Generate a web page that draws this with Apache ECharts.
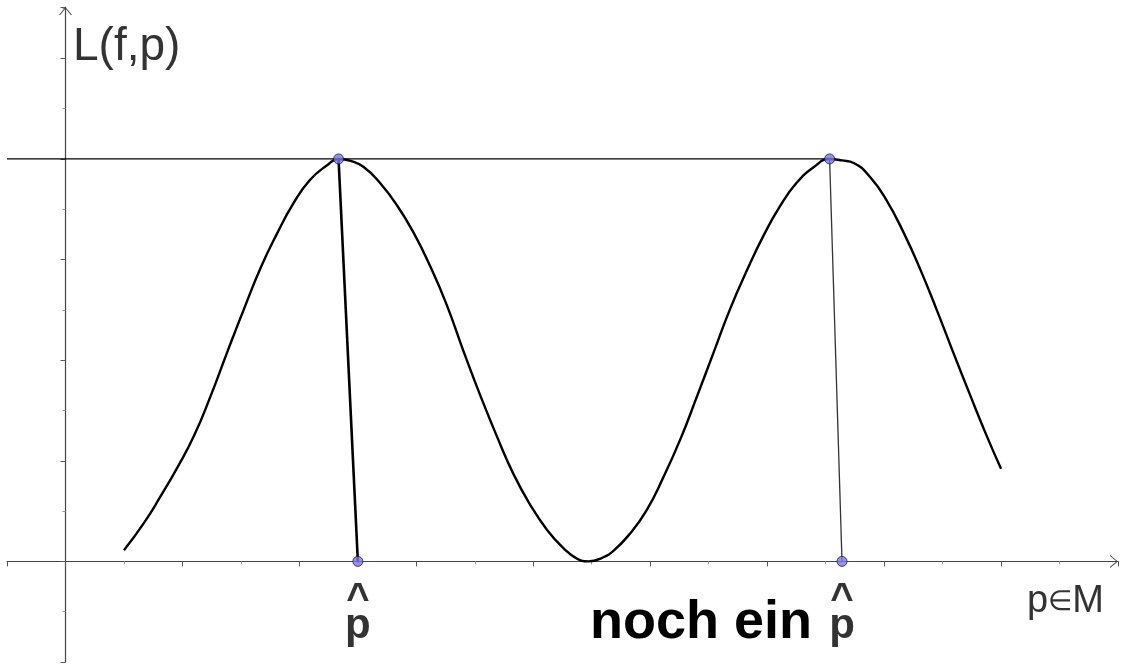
<!DOCTYPE html>
<html>
<head>
<meta charset="utf-8">
<script src="https://cdn.jsdelivr.net/npm/echarts@6/dist/echarts.min.js"></script>
<style>
  html, body { margin: 0; padding: 0; background: #fff; }
  #chart { width: 1122px; height: 665px; }
</style>
</head>
<body>
<div id="chart"></div>
<script>
const curveX = [0.5, 0.67, 0.81, 0.96, 1.10, 1.24, 1.38, 1.52, 1.67, 1.81, 1.95, 2.09, 2.24, 2.335, 2.44,
  2.55, 2.69, 2.84, 2.98, 3.12, 3.26, 3.40, 3.55, 3.69, 3.83, 3.97, 4.12, 4.26, 4.37, 4.47, 4.58,
  4.69, 4.83, 4.97, 5.11, 5.26, 5.40, 5.54, 5.68, 5.83, 5.97, 6.11, 6.25, 6.40, 6.534, 6.64,
  6.74, 6.88, 7.02, 7.17, 7.31, 7.45, 7.59, 7.74, 7.88, 8.0];
const curveY = [0.11, 0.38, 0.64, 0.94, 1.25, 1.64, 2.07, 2.49, 2.92, 3.26, 3.56, 3.79, 3.94, 4.0, 3.98,
  3.92, 3.76, 3.53, 3.26, 2.93, 2.55, 2.10, 1.64, 1.24, 0.87, 0.57, 0.31, 0.13, 0.03, 0.0, 0.03,
  0.11, 0.28, 0.51, 0.83, 1.22, 1.64, 2.07, 2.50, 2.90, 3.24, 3.53, 3.76, 3.92, 4.0, 3.985,
  3.96, 3.82, 3.59, 3.26, 2.90, 2.50, 2.08, 1.64, 1.24, 0.92];

// Maxima und Fusspunkte (p-Dach)
const peakX = [2.335, 6.534];
const peakY = [4, 4];
const footX = [2.5, 6.64];
const footY = [0, 0];

// waagerechte Linie auf Hoehe des Maximums
const levelX = [-0.5, 6.534];
const levelY = [4, 4];

const FONT = '"Liberation Sans", Arial, sans-serif';
const chevron = 'path://M0,8 L6.5,0 L13,8 L11.8,8 L6.5,1.4 L1.2,8 Z';

const zip = (xs, ys) => xs.map((x, i) => [x, ys[i]]);

const myChart = echarts.init(document.getElementById('chart'));

const axisCommon = {
    type: 'value',
    axisLine: {
        onZero: true,
        symbol: ['none', chevron],
        symbolSize: [13, 8],
        symbolOffset: [0, -4],
        lineStyle: { color: '#444', width: 1.2 }
    },
    axisTick: { show: true, length: 5, lineStyle: { color: '#555', width: 1 } },
    minorTick: { show: true, splitNumber: 2, length: 3, lineStyle: { color: '#999', width: 1 } },
    axisLabel: { show: false },
    splitLine: { show: false },
    minorSplitLine: { show: false }
};

const option = {
    animation: false,
    backgroundColor: '#fff',
    grid: { left: 7, right: 4, top: 7, bottom: 3 },
    // keine feste interval hier: min -0.5, ECharts rechnet Schritt 1 selbst
    xAxis: Object.assign({}, axisCommon, { min: -0.5, max: 9.0, splitNumber: 10 }),
    yAxis: Object.assign({}, axisCommon, { min: -1, max: 5.51, interval: 1 }),
    graphic: [
        { type: 'text', left: 73, top: 24, style: { text: 'L(f,p)', font: '46px ' + FONT, fill: '#333' } },
        {
            type: 'text', left: 1027, top: 583,
            style: {
                text: '{a|p}{b|\u2208}{a|M}',
                rich: {
                    a: { font: '38px ' + FONT, fill: '#333' },
                    b: { font: '28px ' + FONT, fill: '#333' }
                }
            }
        },
        { type: 'text', left: 590, top: 596, style: { text: 'noch ein', font: 'bold 54px ' + FONT, fill: '#000' } }
    ],
    series: [
        {
            type: 'line',
            data: zip(levelX, levelY),
            symbol: 'none',
            lineStyle: { color: '#000', width: 1.2 },
            z: 1
        },
        {
            type: 'line',
            data: zip(curveX, curveY),
            smooth: 0.5,
            symbol: 'none',
            lineStyle: { color: '#000', width: 2.4 },
            z: 2
        },
        {
            type: 'line',
            data: [[peakX[0], peakY[0]], [footX[0], footY[0]]],
            symbol: 'none',
            lineStyle: { color: '#000', width: 2.6 },
            z: 3
        },
        {
            type: 'line',
            data: [[peakX[1], peakY[1]], [footX[1], footY[1]]],
            symbol: 'none',
            lineStyle: { color: '#333', width: 1.3 },
            z: 3
        },
        {
            type: 'scatter',
            data: zip(peakX, peakY),
            symbolSize: 10,
            itemStyle: { color: '#7878f4', borderColor: '#222', borderWidth: 1 },
            z: 5
        },
        {
            type: 'scatter',
            data: zip(footX, footY),
            symbolSize: 10,
            itemStyle: { color: '#7878f4', borderColor: '#222', borderWidth: 1 },
            label: {
                show: true,
                position: 'bottom',
                distance: 17,
                formatter: '{h|^}\n{p|p}',
                rich: {
                    h: { fontSize: 40, fontWeight: 'bold', fontFamily: FONT, color: '#000', lineHeight: 32, align: 'center' },
                    p: { fontSize: 42, fontWeight: 'bold', fontFamily: FONT, color: '#000', lineHeight: 22, align: 'center' }
                }
            },
            z: 5
        }
    ]
};

myChart.setOption(option);
window.addEventListener('resize', () => myChart.resize());
</script>
</body>
</html>
